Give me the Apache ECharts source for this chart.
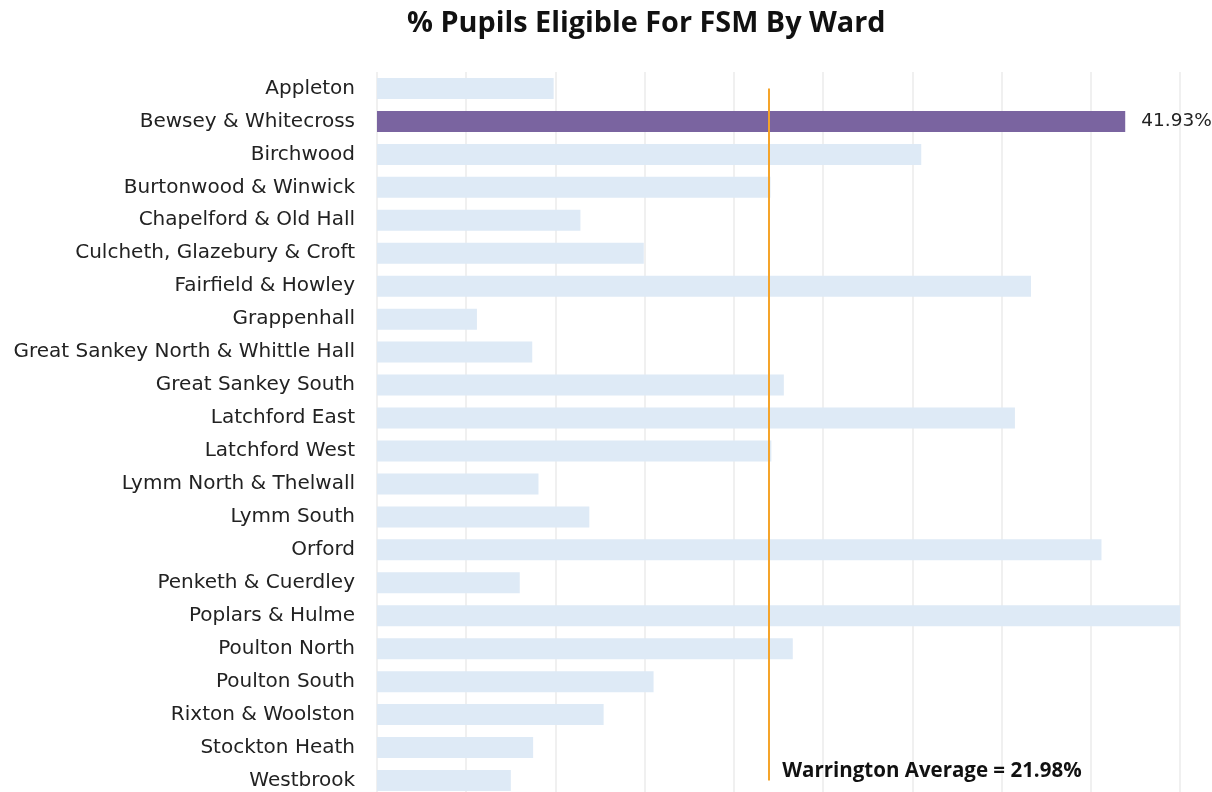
<!DOCTYPE html>
<html>
<head>
<meta charset="utf-8">
<script src="https://cdn.jsdelivr.net/npm/echarts@6/dist/echarts.min.js"></script>
<style>
  html,body{margin:0;padding:0;background:#fff;}
  #chart{width:1212px;height:792px;}
</style>
</head>
<body>
<div id="chart"></div>
<script>
var wards = ['Appleton', 'Bewsey & Whitecross', 'Birchwood', 'Burtonwood & Winwick', 'Chapelford & Old Hall',
    'Culcheth, Glazebury & Croft', 'Fairfield & Howley', 'Grappenhall', 'Great Sankey North & Whittle Hall',
    'Great Sankey South', 'Latchford East', 'Latchford West', 'Lymm North & Thelwall', 'Lymm South', 'Orford',
    'Penketh & Cuerdley', 'Poplars & Hulme', 'Poulton North', 'Poulton South', 'Rixton & Woolston',
    'Stockton Heath', 'Westbrook'];
var fsmPct = [9.9, 41.93, 30.5, 22.05, 11.4, 14.95, 36.65, 5.6, 8.7, 22.8, 35.75, 22.1, 9.05, 11.9, 40.6,
    8.0, 45.0, 23.3, 15.5, 12.7, 8.75, 7.5];
var highlightWard = 'Bewsey & Whitecross';
var warringtonAvg = 21.98;

var myChart = echarts.init(document.getElementById('chart'));

var barData = wards.map(function(w, i){
    if (w == highlightWard) {
        return {
            value: fsmPct[i],
            itemStyle: {color: '#7A64A0'},
            label: {show: true, position: 'right', distance: 16, formatter: function(p){ return p.value.toFixed(2) + '%'; },
                color: '#222', fontSize: 18.5, fontFamily: 'DejaVu Sans'}
        };
    }
    return fsmPct[i];
});

var option = {
    animation: false,
    title: {
        text: '% Pupils Eligible For FSM By Ward',
        left: 402,
        top: 4,
        textStyle: {fontSize: 28.8, fontWeight: 'bold', color: '#111', fontFamily: 'Open Sans'}
    },
    grid: {left: 377, top: 72, width: 803, height: 725, outerBoundsMode: 'none'},
    xAxis: {
        type: 'value',
        min: 0,
        max: 45,
        interval: 5,
        axisLabel: {show: false},
        axisLine: {show: false},
        axisTick: {show: false},
        splitLine: {show: true, lineStyle: {color: '#ebebeb', width: 1.5}}
    },
    yAxis: {
        type: 'category',
        data: wards,
        inverse: true,
        axisLine: {show: false},
        axisTick: {show: false},
        axisLabel: {color: '#222', fontSize: 20, margin: 22, fontFamily: 'DejaVu Sans'}
    },
    series: [
        {
            type: 'bar',
            data: barData,
            barWidth: 21,
            itemStyle: {color: '#DEEAF6'},
            markLine: {
                silent: true,
                symbol: 'none',
                lineStyle: {color: '#F5A42A', width: 2, type: 'solid'},
                label: {show: false},
                data: [[{coord: [warringtonAvg, wards[0]]}, {coord: [warringtonAvg, wards[wards.length - 1]]}]]
            },
            markPoint: {
                silent: true,
                symbol: 'circle',
                symbolSize: 0,
                data: [{coord: [warringtonAvg, wards[wards.length - 1]]}],
                label: {
                    show: true,
                    position: 'right',
                    offset: [8, -9],
                    formatter: 'Warrington Average = ' + warringtonAvg.toFixed(2) + '%',
                    color: '#111',
                    fontSize: 20.5,
                    fontWeight: 'bold',
                    fontFamily: 'Open Sans'
                }
            }
        }
    ]
};

myChart.setOption(option);
</script>
</body>
</html>
